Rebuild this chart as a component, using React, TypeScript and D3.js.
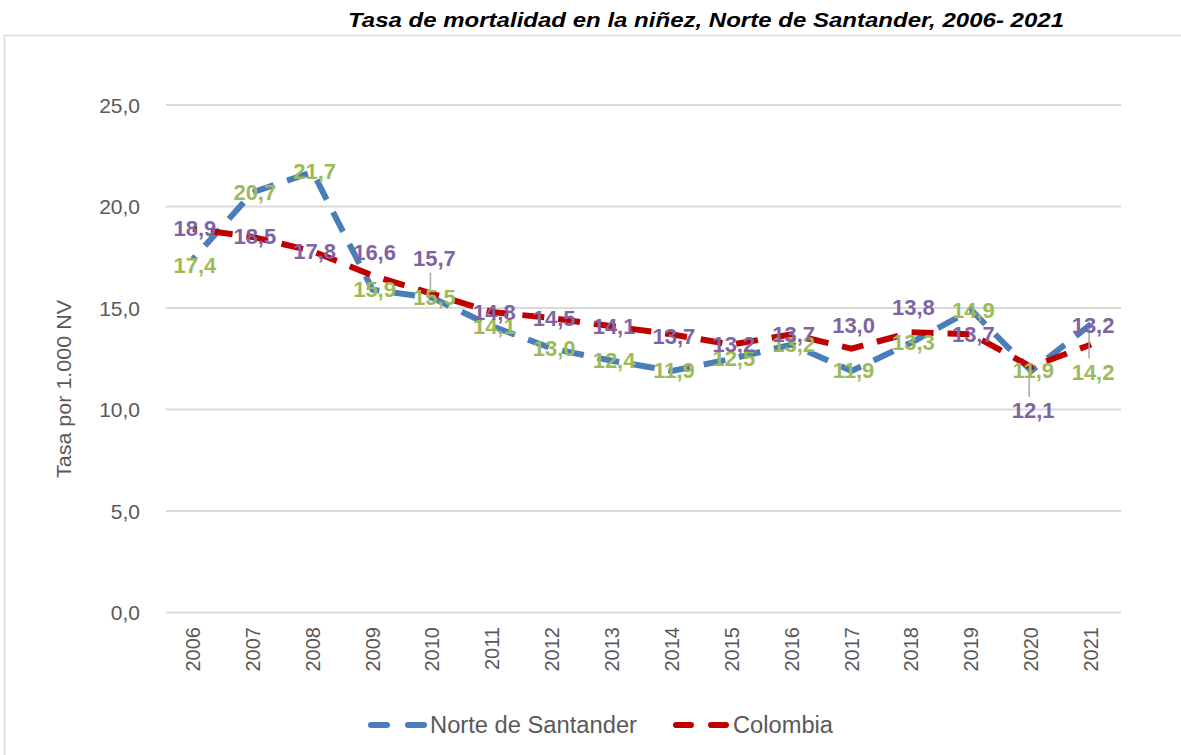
import React from "react";
import * as d3 from "d3";

// Datos
const years = ["2006", "2007", "2008", "2009", "2010", "2011", "2012", "2013", "2014", "2015", "2016", "2017", "2018", "2019", "2020", "2021"];
const norteSantander = [17.4, 20.7, 21.7, 15.9, 15.5, 14.1, 13.0, 12.4, 11.9, 12.5, 13.2, 11.9, 13.3, 14.9, 11.9, 14.2];
const colombia = [18.9, 18.5, 17.8, 16.6, 15.7, 14.8, 14.5, 14.1, 13.7, 13.2, 13.7, 13.0, 13.8, 13.7, 12.1, 13.2];
const yTicks = [0, 5, 10, 15, 20, 25];

// Desplazamiento vertical de las etiquetas (como en Excel)
const norteLabelDy = [6, 0, 0, 0, 0, 0, 0, 0, 0, 0, 0, 0, 0, 0, 0, 48];
const colombiaLabelDy = [0, 0, 0, -23, -35, 0, 0, 0, 2, 0, 0, -23, -25, 0, 44, -19];

const W = 1181;
const H = 755;
const FONT = "'Liberation Sans', Arial, Helvetica, sans-serif";

const fmt = (v: number) => v.toFixed(1).replace(".", ",");

export default function App() {
  const x = d3.scalePoint<string>().domain(years).range([163, 1121]).padding(0.5);
  const y = d3.scaleLinear().domain([0, 25]).range([612.5, 105]);

  const line = d3
    .line<number>()
    .x((_, i) => x(years[i]) as number)
    .y((d) => y(d));

  const series = [
    { name: "Norte de Santander", values: norteSantander, color: "#4a7ebb", label: "#9bbb59", dy: norteLabelDy },
    { name: "Colombia", values: colombia, color: "#c00000", label: "#8064a2", dy: colombiaLabelDy },
  ];

  return (
    <svg width={W} height={H} style={{ position: "absolute", left: 0, top: 0, background: "#fff" }} fontFamily={FONT}>
      {/* marco */}
      <path d={`M4.5,${H} V35.5 H${W}`} fill="none" stroke="#d9d9d9" strokeWidth={1.5} />

      {/* título */}
      <text
        x={706}
        y={27}
        textAnchor="middle"
        fontFamily="'Liberation Sans Narrow', 'Liberation Sans', Arial, sans-serif"
        fontWeight="bold"
        fontStyle="italic"
        fontSize={21}
        textLength={716}
        lengthAdjust="spacingAndGlyphs"
        fill="#000"
      >
        Tasa de mortalidad en la niñez, Norte de Santander, 2006- 2021
      </text>

      {/* rejilla y eje Y */}
      {yTicks.map((t) => (
        <g key={t}>
          <line x1={166} x2={1121} y1={y(t)} y2={y(t)} stroke="#d9d9d9" strokeWidth={2} />
          <text x={140} y={y(t)} textAnchor="end" dominantBaseline="central" fontSize={21} fill="#595959">
            {fmt(t)}
          </text>
        </g>
      ))}

      <text
        transform={`translate(64,389) rotate(-90)`}
        textAnchor="middle"
        dominantBaseline="central"
        fontSize={20}
        fill="#595959"
        textLength={178}
        lengthAdjust="spacingAndGlyphs"
      >
        Tasa por 1.000 NV
      </text>

      {/* eje X */}
      {years.map((yr) => (
        <text
          key={yr}
          transform={`translate(${x(yr)},627) rotate(-90)`}
          textAnchor="end"
          dominantBaseline="central"
          fontSize={20}
          fill="#595959"
        >
          {yr}
        </text>
      ))}

      {/* líneas */}
      {series.map((s) => (
        <path
          key={s.name}
          d={line(s.values) || ""}
          fill="none"
          stroke={s.color}
          strokeWidth={6}
          strokeDasharray="22 14"
          strokeDashoffset={-18}
        />
      ))}

      {/* líneas guía */}
      {series.map((s) =>
        s.values.map((v, i) => {
          const dy = s.dy[i];
          if (Math.abs(dy) < 30) return null;
          const px = (x(years[i]) as number) - 2;
          const py = y(v);
          const ly = py + dy - Math.sign(dy) * 14;
          const y1 = py + Math.sign(dy) * 4;
          return <line key={s.name + i} x1={px} x2={px} y1={y1} y2={ly} stroke="#a6a6a6" strokeWidth={1.5} />;
        })
      )}

      {/* etiquetas */}
      {series.map((s) =>
        s.values.map((v, i) => (
          <text
            key={s.name + "l" + i}
            x={(x(years[i]) as number) + 2}
            y={y(v) + s.dy[i]}
            textAnchor="middle"
            dominantBaseline="central"
            fontSize={22}
            fontWeight="bold"
            fill={s.label}
          >
            {fmt(v)}
          </text>
        ))
      )}

      {/* leyenda */}
      <g>
        <line x1={371} x2={425} y1={725} y2={725} stroke="#4a7ebb" strokeWidth={6} strokeLinecap="round" strokeDasharray="16 21" />
        <text x={430} y={725} dominantBaseline="central" fontSize={23} fill="#595959" textLength={207} lengthAdjust="spacingAndGlyphs">
          Norte de Santander
        </text>
        <line x1={676} x2={728} y1={725} y2={725} stroke="#c00000" strokeWidth={6} strokeLinecap="round" strokeDasharray="15 20" />
        <text x={733} y={725} dominantBaseline="central" fontSize={23} fill="#595959" textLength={100} lengthAdjust="spacingAndGlyphs">
          Colombia
        </text>
      </g>
    </svg>
  );
}
